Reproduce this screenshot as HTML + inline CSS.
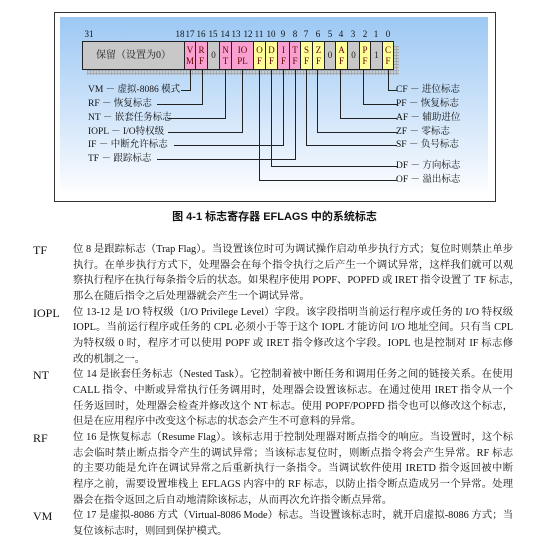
<!DOCTYPE html>
<html><head><meta charset="utf-8"><style>
*{margin:0;padding:0;box-sizing:border-box}
body{width:549px;height:541px;background:#fff;position:relative;overflow:hidden;font-family:"Liberation Serif","Noto Serif CJK SC",serif;color:#111}
.a{position:absolute}
.frame{left:54px;top:12px;width:442px;height:190px;border:1px solid #333}
.grad{left:60px;top:17px;width:428px;height:178px;background:linear-gradient(#9cc8f4,#eef5fd 85%,#fff)}
.c{position:absolute;top:41px;height:29px;border:1px solid #222;font-size:9px;line-height:11px;text-align:center;padding-top:3px;color:#600}
.g{background:#c8c8c8;color:#222;padding-top:8px}
.p{background:#f8a0d0}
.y{background:#ffff99}
.n{position:absolute;top:29px;font-size:9px;width:12px;text-align:center}
.l{position:absolute;font-size:9.5px;white-space:nowrap;line-height:12px}
.ln{position:absolute;background:#222}
.t{position:absolute;font-size:12px;line-height:14px;white-space:nowrap}
.b{position:absolute;left:73px;width:440px;font-size:10.3px;line-height:14px;text-align:justify;text-align-last:justify;white-space:nowrap;overflow:hidden}
.b.e{text-align-last:left}
</style></head><body>
<div class="a frame"></div>
<div class="a grad"></div>
<div class="a" style="left:87px;top:46px;width:312px;height:29px;background:repeating-linear-gradient(90deg,#999 0 1px,transparent 1px 3px),repeating-linear-gradient(#999 0 1px,#ccc 1px 3px);opacity:.7"></div>
<div class="c g" style="left:82px;width:103px;background:#c8c8c8;font-size:10px">保留（设置为0）</div>
<div class="c p" style="left:184px;width:12px">V<br>M</div>
<div class="c p" style="left:195px;width:13px">R<br>F</div>
<div class="c g" style="left:207px;width:13px">0</div>
<div class="c p" style="left:219px;width:13px">N<br>T</div>
<div class="c p" style="left:231px;width:23px">IO<br>PL</div>
<div class="c y" style="left:253px;width:13px">O<br>F</div>
<div class="c y" style="left:265px;width:13px">D<br>F</div>
<div class="c p" style="left:277px;width:13px">I<br>F</div>
<div class="c p" style="left:289px;width:12px">T<br>F</div>
<div class="c y" style="left:300px;width:13px">S<br>F</div>
<div class="c y" style="left:312px;width:13px">Z<br>F</div>
<div class="c g" style="left:324px;width:12px">0</div>
<div class="c y" style="left:335px;width:13px">A<br>F</div>
<div class="c g" style="left:347px;width:13px">0</div>
<div class="c y" style="left:359px;width:12px">P<br>F</div>
<div class="c g" style="left:370px;width:13px">1</div>
<div class="c y" style="left:382px;width:12px">C<br>F</div>
<div class="n" style="left:83px">31</div>
<div class="n" style="left:174px">18</div><div class="n" style="left:184px">17</div><div class="n" style="left:195px">16</div><div class="n" style="left:207px">15</div><div class="n" style="left:219px">14</div><div class="n" style="left:230px">13</div><div class="n" style="left:242px">12</div><div class="n" style="left:253px">11</div><div class="n" style="left:265px">10</div><div class="n" style="left:277px">9</div><div class="n" style="left:289px">8</div><div class="n" style="left:300px">7</div><div class="n" style="left:312px">6</div><div class="n" style="left:324px">5</div><div class="n" style="left:335px">4</div><div class="n" style="left:347px">3</div><div class="n" style="left:359px">2</div><div class="n" style="left:370px">1</div><div class="n" style="left:382px">0</div>
<div class="ln" style="left:190px;top:70px;width:1px;height:20px"></div><div class="ln" style="left:181px;top:90px;width:10px;height:1px"></div>
<div class="ln" style="left:202px;top:70px;width:1px;height:34px"></div><div class="ln" style="left:157px;top:104px;width:46px;height:1px"></div>
<div class="ln" style="left:225px;top:70px;width:1px;height:48px"></div><div class="ln" style="left:168px;top:118px;width:58px;height:1px"></div>
<div class="ln" style="left:242px;top:70px;width:1px;height:62px"></div><div class="ln" style="left:168px;top:132px;width:75px;height:1px"></div>
<div class="ln" style="left:283px;top:70px;width:1px;height:75px"></div><div class="ln" style="left:174px;top:145px;width:110px;height:1px"></div>
<div class="ln" style="left:295px;top:70px;width:1px;height:89px"></div><div class="ln" style="left:157px;top:159px;width:139px;height:1px"></div>
<div class="ln" style="left:388px;top:70px;width:1px;height:20px"></div><div class="ln" style="left:388px;top:90px;width:9px;height:1px"></div>
<div class="ln" style="left:363px;top:70px;width:1px;height:34px"></div><div class="ln" style="left:363px;top:104px;width:34px;height:1px"></div>
<div class="ln" style="left:340px;top:70px;width:1px;height:48px"></div><div class="ln" style="left:340px;top:118px;width:57px;height:1px"></div>
<div class="ln" style="left:317px;top:70px;width:1px;height:62px"></div><div class="ln" style="left:317px;top:132px;width:80px;height:1px"></div>
<div class="ln" style="left:306px;top:70px;width:1px;height:75px"></div><div class="ln" style="left:306px;top:145px;width:91px;height:1px"></div>
<div class="ln" style="left:271px;top:70px;width:1px;height:96px"></div><div class="ln" style="left:271px;top:166px;width:126px;height:1px"></div>
<div class="ln" style="left:259px;top:70px;width:1px;height:110px"></div><div class="ln" style="left:259px;top:180px;width:138px;height:1px"></div>
<div class="l" style="left:88px;top:84px">VM － 虚拟-8086 模式</div>
<div class="l" style="left:88px;top:98px">RF － 恢复标志</div>
<div class="l" style="left:88px;top:112px">NT － 嵌套任务标志</div>
<div class="l" style="left:88px;top:126px">IOPL － I/O特权级</div>
<div class="l" style="left:88px;top:139px">IF － 中断允许标志</div>
<div class="l" style="left:88px;top:153px">TF － 跟踪标志</div>
<div class="l" style="left:396px;top:84px">CF － 进位标志</div>
<div class="l" style="left:396px;top:98px">PF － 恢复标志</div>
<div class="l" style="left:396px;top:112px">AF － 辅助进位</div>
<div class="l" style="left:396px;top:126px">ZF － 零标志</div>
<div class="l" style="left:396px;top:139px">SF － 负号标志</div>
<div class="l" style="left:396px;top:160px">DF － 方向标志</div>
<div class="l" style="left:396px;top:174px">OF － 溢出标志</div>
<div class="t" style="left:0;width:549px;text-align:center;top:210px;font-size:11px;font-weight:bold;font-family:'Liberation Sans','Noto Sans CJK SC',sans-serif">图 4-1  标志寄存器 EFLAGS 中的系统标志</div>

<div class="t" style="left:33px;top:243px">TF</div>
<div class="b" style="top:243px">位 8 是跟踪标志（Trap Flag）。当设置该位时可为调试操作启动单步执行方式；复位时则禁止单步</div>
<div class="b" style="top:259px">执行。在单步执行方式下，处理器会在每个指令执行之后产生一个调试异常，这样我们就可以观</div>
<div class="b" style="top:274px">察执行程序在执行每条指令后的状态。如果程序使用 POPF、POPFD 或 IRET 指令设置了 TF 标志，</div>
<div class="b e" style="top:290px">那么在随后指令之后处理器就会产生一个调试异常。</div>
<div class="t" style="left:33px;top:306px">IOPL</div>
<div class="b" style="top:306px">位 13-12 是 I/O 特权级（I/O Privilege Level）字段。该字段指明当前运行程序或任务的 I/O 特权级</div>
<div class="b" style="top:321px">IOPL。当前运行程序或任务的 CPL 必须小于等于这个 IOPL 才能访问 I/O 地址空间。只有当 CPL</div>
<div class="b" style="top:337px">为特权级 0 时，程序才可以使用 POPF 或 IRET 指令修改这个字段。IOPL 也是控制对 IF 标志修</div>
<div class="b e" style="top:353px">改的机制之一。</div>
<div class="t" style="left:33px;top:368px">NT</div>
<div class="b" style="top:368px">位 14 是嵌套任务标志（Nested Task）。它控制着被中断任务和调用任务之间的链接关系。在使用</div>
<div class="b" style="top:384px">CALL 指令、中断或异常执行任务调用时，处理器会设置该标志。在通过使用 IRET 指令从一个</div>
<div class="b" style="top:400px">任务返回时，处理器会检查并修改这个 NT 标志。使用 POPF/POPFD 指令也可以修改这个标志，</div>
<div class="b e" style="top:415px">但是在应用程序中改变这个标志的状态会产生不可意料的异常。</div>
<div class="t" style="left:33px;top:431px">RF</div>
<div class="b" style="top:431px">位 16 是恢复标志（Resume Flag）。该标志用于控制处理器对断点指令的响应。当设置时，这个标</div>
<div class="b" style="top:447px">志会临时禁止断点指令产生的调试异常；当该标志复位时，则断点指令将会产生异常。RF 标志</div>
<div class="b" style="top:462px">的主要功能是允许在调试异常之后重新执行一条指令。当调试软件使用 IRETD 指令返回被中断</div>
<div class="b" style="top:478px">程序之前，需要设置堆栈上 EFLAGS 内容中的 RF 标志，以防止指令断点造成另一个异常。处理</div>
<div class="b e" style="top:494px">器会在指令返回之后自动地清除该标志，从而再次允许指令断点异常。</div>
<div class="t" style="left:33px;top:509px">VM</div>
<div class="b" style="top:509px">位 17 是虚拟-8086 方式（Virtual-8086 Mode）标志。当设置该标志时，就开启虚拟-8086 方式；当</div>
<div class="b e" style="top:525px">复位该标志时，则回到保护模式。</div>
</body></html>
